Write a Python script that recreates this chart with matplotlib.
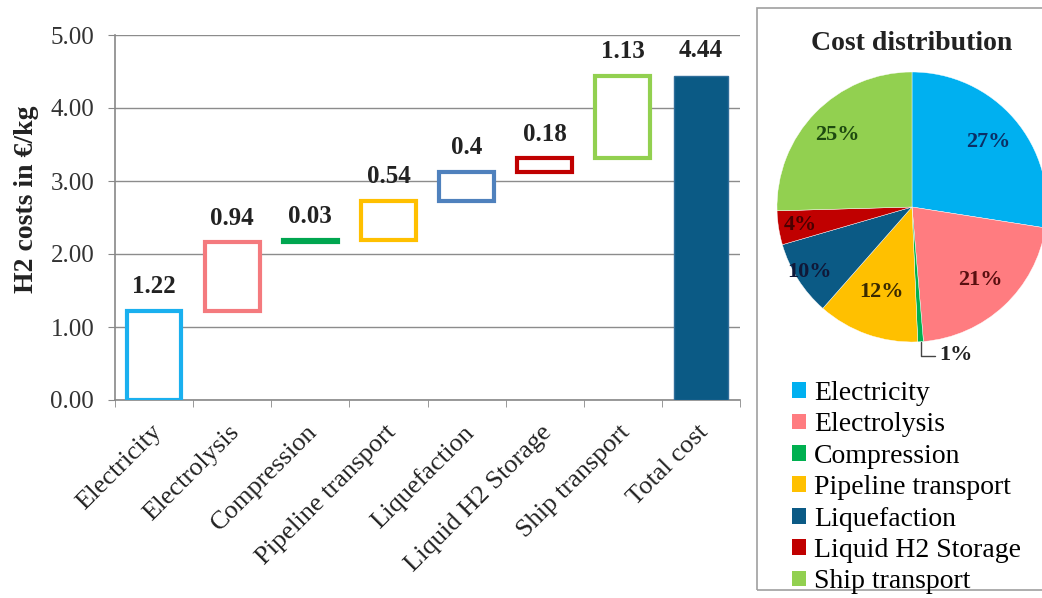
import numpy as np
import matplotlib
matplotlib.use("Agg")
from matplotlib import pyplot as plt
from matplotlib.patches import Patch, Rectangle

plt.rcParams['font.family'] = ['Liberation Serif', 'DejaVu Serif']

# data
categories = ['Electricity', 'Electrolysis', 'Compression', 'Pipeline transport',
              'Liquefaction', 'Liquid H2 Storage', 'Ship transport']
costs = [1.22, 0.94, 0.03, 0.54, 0.40, 0.18, 1.13]
cost_labels = ['1.22', '0.94', '0.03', '0.54', '0.4', '0.18', '1.13']
total_label = 'Total cost'
total_value = 4.44
share_labels = ['27%', '21%', '1%', '12%', '10%', '4%', '25%']

# colours
box_colors = ['#1AB0EF', '#F47A7E', '#00A650', '#FFC000', '#4F81BD', '#C00000', '#92D050']
pie_colors = ['#00B0F0', '#FF7C80', '#00B050', '#FFC000', '#0B5A85', '#C00000', '#92D050']
pct_colors = ['#0B2F66', '#5A0F10', '#0B3B1B', '#3A2A00', '#101838', '#4A0000', '#1E4A10']
total_color = '#0B5A85'

fig = plt.figure(figsize=(10.42, 5.98), dpi=100)

# ---- waterfall ----
ax = fig.add_axes([115/1042, 1-400/598, 625/1042, 365/598])
bottoms = np.concatenate([[0], np.cumsum(costs)[:-1]])
x = np.arange(len(categories))
ax.bar(x, costs, bottom=bottoms, width=0.7, color='white',
       edgecolor=box_colors, linewidth=3, zorder=3)
ax.bar(len(categories), total_value, width=0.7, color=total_color,
       edgecolor='#2F6E9A', linewidth=1, zorder=3)

for xi, b, c, lab in zip(x, bottoms, costs, cost_labels):
    ax.text(xi, b + c + 0.33, lab, ha='center', va='center',
            fontsize=18, fontweight='bold', color='#222222')
ax.text(len(categories), total_value + 0.35, f'{total_value:.2f}', ha='center',
        va='center', fontsize=18, fontweight='bold', color='#222222')

ax.set_xlim(-0.5, len(categories) + 0.5)
ax.set_ylim(0, 5)
ax.set_yticks(np.arange(0, 5.01, 1))
ax.set_yticklabels([f'{v:.2f}' for v in np.arange(0, 5.01, 1)], fontsize=18, color='#333333')
ax.set_xticks(np.arange(len(categories) + 1) - 0.05)
ax.set_xticklabels(categories + [total_label], rotation=45, ha='right',
                   rotation_mode='anchor', fontsize=19, color='#222222')
ax.set_xticks(np.arange(-0.5, len(categories) + 1), minor=True)
ax.tick_params(axis='x', which='major', length=0, pad=15)
ax.tick_params(axis='x', which='minor', length=5, color='#888888')
ax.tick_params(axis='y', length=5, color='#888888', pad=10)
ax.grid(axis='y', color='#8C8C8C', linewidth=1)
ax.set_axisbelow(True)
for s in ['top', 'right']:
    ax.spines[s].set_visible(False)
for s in ['left', 'bottom']:
    ax.spines[s].set_color('#888888')
    ax.spines[s].set_linewidth(1.2)
ax.set_ylabel('H2 costs in €/kg', fontsize=20, fontweight='bold', color='#222222')
ax.yaxis.set_label_coords(-0.122, 0.55)

# ---- panel box ----
fig.patches.append(Rectangle((757/1042, 8/598), 0.3, 582/598, transform=fig.transFigure,
                             fill=False, edgecolor='#A0A0A0', linewidth=1.2))

fig.text(912/1042, 1-43/598, 'Cost distribution', ha='center', va='center',
         fontsize=20, fontweight='bold', color='#222222')

# ---- pie ----
r_px = 135
half = r_px * 1.05
pax = fig.add_axes([(912-half)/1042, (598-207-half)/598, 2*half/1042, 2*half/598])
wedges, _ = pax.pie(costs, colors=pie_colors, startangle=90, counterclock=False,
                    wedgeprops=dict(edgecolor='white', linewidth=0.3))
pax.set_xlim(-1.05, 1.05)
pax.set_ylim(-1.05, 1.05)
pax.set_aspect('equal')
pax.axis('off')

label_r = [0.74, 0.74, None, 0.67, 0.9, 0.84, 0.77]
for w, lab, r, col in zip(wedges, share_labels, label_r, pct_colors):
    ang = np.deg2rad((w.theta1 + w.theta2) / 2)
    if r is None:
        pax.annotate(lab, xy=(np.cos(ang), np.sin(ang)), xytext=(0.2, -1.1),
                     ha='left', va='center', fontsize=16, fontweight='bold', color='#222222',
                     arrowprops=dict(arrowstyle='-', color='#444444', lw=1,
                                     connectionstyle='angle,angleA=0,angleB=90,rad=0',
                                     shrinkA=1, shrinkB=0),
                     annotation_clip=False)
    else:
        pax.text(r*np.cos(ang), r*np.sin(ang), lab, ha='center', va='center',
                 fontsize=16, fontweight='bold', color=col)

handles = [Patch(facecolor=c, edgecolor='none') for c in pie_colors]
fig.legend(handles, categories, loc='upper left', bbox_to_anchor=(792/1042, 1-381/598),
           frameon=False, fontsize=20, handlelength=0.5, handleheight=0.5,
           handletextpad=0.3, labelspacing=0.23, borderaxespad=0, borderpad=0)

fig.savefig('out.png', dpi=100)
